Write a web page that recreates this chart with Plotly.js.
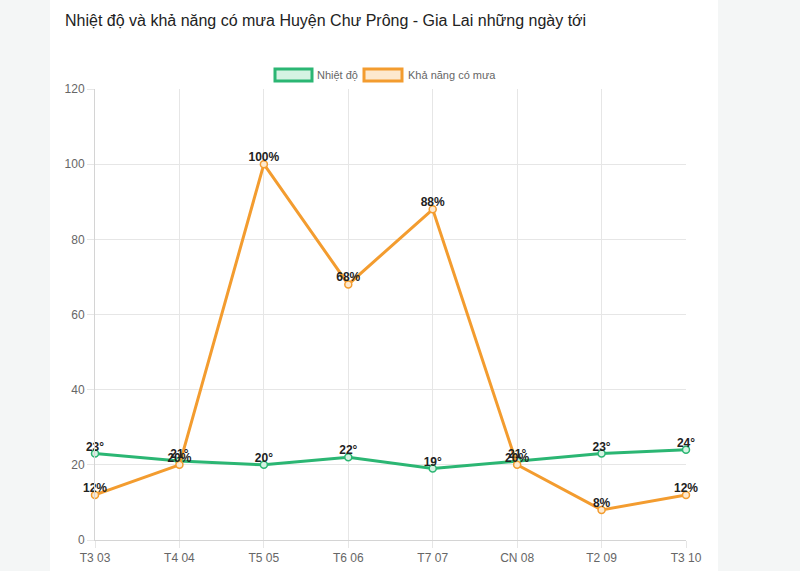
<!DOCTYPE html>
<html>
<head>
<meta charset="utf-8">
<script src="https://cdn.plot.ly/plotly-3.0.1.min.js"></script>
<style>
html,body{margin:0;padding:0;background:#f4f6f6;width:800px;height:571px;overflow:hidden;}
#card{position:absolute;left:50px;top:0;width:668px;height:571px;background:#fff;}
#chart{position:absolute;left:0;top:0;width:800px;height:571px;}
</style>
</head>
<body>
<div id="card"></div>
<div id="chart"></div>
<script>
const days = ["T3 03","T4 04","T5 05","T6 06","T7 07","CN 08","T2 09","T3 10"];
const temperature = [23,21,20,22,19,21,23,24];
const rainChance = [12,20,100,68,88,20,8,12];
const titleText = "Nhiệt độ và khả năng có mưa Huyện Chư Prông - Gia Lai những ngày tới";
const seriesNames = ["Nhiệt độ","Khả năng có mưa"];

const green = "#2bb673";
const orange = "#f39c2f";

const W = 800, H = 571, L = 95, R = 114, T = 89, B = 31;
const pw = W - L - R, ph = H - T - B;
const px = x => (x - L) / pw;
const py = y => (H - B - y) / ph;

const labelFont = {family:"Arial, Liberation Sans, sans-serif", size:12, color:"#222", weight:"bold"};

const traces = [
  {
    x: days, y: temperature, name: seriesNames[0], type: "scatter", mode: "lines+markers",
    line: {color: green, width: 3},
    marker: {size: 7, color: "#d5f3e3", line: {color: green, width: 1.5}},
    cliponaxis: false, hoverinfo: "skip"
  },
  {
    x: days, y: rainChance, name: seriesNames[1], type: "scatter", mode: "lines+markers",
    line: {color: orange, width: 3},
    marker: {size: 7, color: "#fde9cf", line: {color: orange, width: 1.5}},
    cliponaxis: false, hoverinfo: "skip"
  },
  {
    x: days, y: temperature, type: "scatter", mode: "text",
    text: temperature.map(v => v + "°"), textposition: "top center", textfont: labelFont,
    cliponaxis: false, hoverinfo: "skip"
  },
  {
    x: days, y: rainChance, type: "scatter", mode: "text",
    text: rainChance.map(v => v + "%"), textposition: "top center", textfont: labelFont,
    cliponaxis: false, hoverinfo: "skip"
  }
];

const layout = {
  width: W, height: H,
  margin: {l: L, r: R, t: T, b: B},
  paper_bgcolor: "rgba(0,0,0,0)", plot_bgcolor: "rgba(0,0,0,0)",
  showlegend: false,
  font: {family: "Arial, Liberation Sans, sans-serif", size: 12, color: "#666"},
  title: {
    text: titleText, xref: "container", yref: "container",
    x: 65 / W, xanchor: "left", y: 1 - 20 / H, yanchor: "middle",
    font: {family: "Arial, Liberation Sans, sans-serif", size: 16, color: "#222"}
  },
  xaxis: {
    type: "category", range: [0, days.length - 1],
    showgrid: true, gridcolor: "#e6e6e6", gridwidth: 1,
    ticks: "outside", ticklen: 7, tickcolor: "#e6e6e6",
    showline: true, linecolor: "#d4d4d4", linewidth: 1,
    tickfont: {size: 12, color: "#666"}, zeroline: false
  },
  yaxis: {
    range: [0, 120], dtick: 20, tick0: 0,
    showgrid: true, gridcolor: "#e6e6e6", gridwidth: 1,
    ticks: "outside", ticklen: 7, tickcolor: "#e6e6e6",
    showline: true, linecolor: "#d4d4d4", linewidth: 1,
    tickfont: {size: 12, color: "#666"}, zeroline: false
  },
  shapes: [
    {type: "rect", xref: "paper", yref: "paper", x0: px(275), x1: px(312), y0: py(81), y1: py(69),
     line: {color: green, width: 3}, fillcolor: "#d5f3e3"},
    {type: "rect", xref: "paper", yref: "paper", x0: px(364), x1: px(402), y0: py(81), y1: py(69),
     line: {color: orange, width: 3}, fillcolor: "#fde9cf"}
  ],
  annotations: [
    {xref: "paper", yref: "paper", x: px(315), y: py(75), xanchor: "left", yanchor: "middle",
     text: seriesNames[0], showarrow: false, font: {size: 11, color: "#666"}},
    {xref: "paper", yref: "paper", x: px(406), y: py(75), xanchor: "left", yanchor: "middle",
     text: seriesNames[1], showarrow: false, font: {size: 11, color: "#666"}}
  ]
};

Plotly.newPlot("chart", traces, layout, {displayModeBar: false, staticPlot: true});
</script>
</body>
</html>
